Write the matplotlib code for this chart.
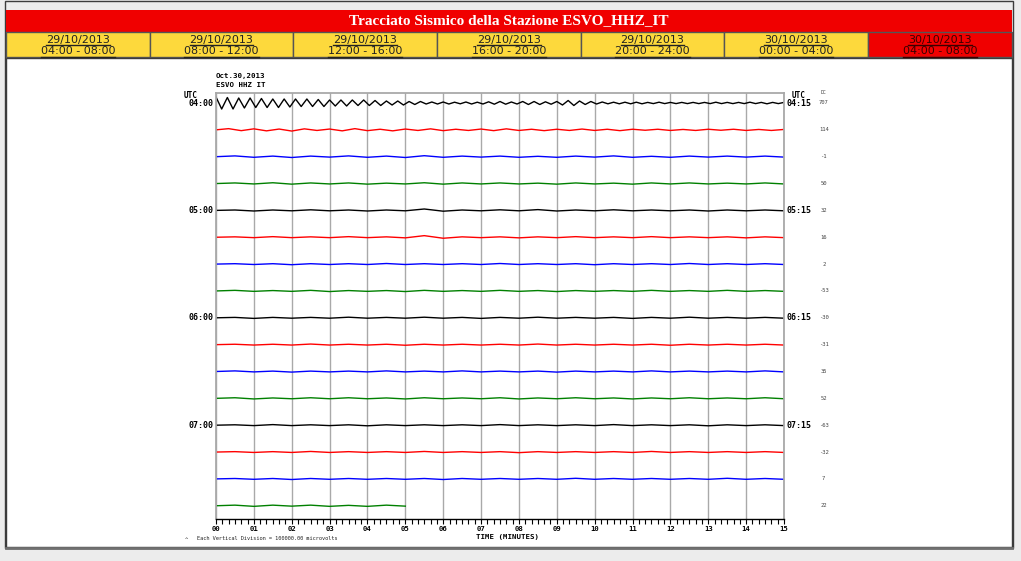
import numpy as np
import matplotlib
matplotlib.use("Agg")
import matplotlib.pyplot as plt
from matplotlib.patches import Rectangle
from matplotlib.transforms import blended_transform_factory

# ---------------- data ----------------
title = "Tracciato Sismico della Stazione ESVO_HHZ_IT"
tab_dates = ["29/10/2013", "29/10/2013", "29/10/2013", "29/10/2013",
             "29/10/2013", "30/10/2013", "30/10/2013"]
tab_ranges = ["04:00 - 08:00", "08:00 - 12:00", "12:00 - 16:00", "16:00 - 20:00",
              "20:00 - 24:00", "00:00 - 04:00", "04:00 - 08:00"]
active_tab = 6
header_lines = ["Oct.30,2013", "ESVO HHZ IT"]
left_labels = ["04:00", "05:00", "06:00", "07:00"]
right_labels = ["04:15", "05:15", "06:15", "07:15"]
dc_values = [707, 114, -1, 50, 32, 16, 2, -53, -30, -31, 35, 52, -63, -32, 7, 22]
minute_labels = ["00", "01", "02", "03", "04", "05", "06", "07",
                 "08", "09", "10", "11", "12", "13", "14", "15"]
footnote = "Each Vertical Division = 100000.00 microvolts"
xlabel = "TIME (MINUTES)"

# trace readings (amplitude readings, up = positive), sample step in seconds
trace00 = [6, -6, 5.5, -6, 5, -5, 5,
           -4.5, 4.5, -4.5, 4, -4.5, 4, -4,
           4, -3.5, 4, -3.5, 3.5, -3.5,
           3, -3, 3, -3, 3, -2.5, 3,
           -2.5, 2.5, -2.5, 2, -2, 2, -2,
           1.5, -1.5, 1.5, -1, 1, -1,
           1, -1, 0.8, -0.8, 1, -1, 0.8,
           -1, 1.2, -1.2, 1.5, -1.2, 1, -1,
           1.5, -1.5, 1.5, -1.5, 1.2, -1.2,
           1.5, -2, 2.5, -2.5, 2, -1.5, 1.5,
           -1, 1, -0.8, 0.8, -0.8, 0.8, -0.8,
           0.8, -0.8, 0.6, -0.6, 0.8, -0.6,
           0.6, -0.6, 0.6, -0.6, 0.6, -0.6, 0.6,
           -0.6, 0.8, -0.6, 0.6, -0.6, 0.6, -0.6,
           0.8, -0.6, 0.6, -0.8, 0.6, -0.6, 0.6]
trace01 = [0, 1.2, -0.8, 1.0, -1.0, 0.8, -1.2, 1.0, -0.6, 0.8, -1.0, 1.2,
           -0.8, 0.6, -1.0, 0.8, -0.6, 1.0, -0.8, 0.6, -0.6, 0.8, -0.8, 1.0,
           -0.6, 0.6, -0.8, 0.6, -0.6, 0.8, -0.6, 0.6, -0.8, 0.6, -0.4, 0.6,
           -0.6, 0.4, -0.6, 0.6, -0.4, 0.6, -0.6, 0.4, -0.6, 0.4]
trace02 = [0, 0.8, -0.6, 0.6, -0.8, 0.6, -0.4, 0.8, -0.6, 0.6, -0.8, 1.0,
           -0.6, 0.6, -0.4, 0.6, -0.6, 0.4, -0.6, 0.6, -0.4, 0.8, -0.6, 0.4,
           -0.6, 0.6, -0.4, 0.6, -0.4, 0.6, -0.4]
trace03 = [0, 0.6, -0.4, 0.8, -0.6, 0.6, -0.4, 0.6, -0.6, 0.4, -0.4, 0.8,
           -0.6, 0.6, -0.4, 0.6, -0.4, 0.4, -0.6, 0.6, -0.4, 0.4, -0.6, 0.6,
           -0.4, 0.6, -0.4, 0.4, -0.4, 0.6, -0.4]
trace04 = [0, 0.4, -0.6, 0.4, -0.4, 0.6, -0.4, 0.4, -0.6, 0.4, -0.4, 1.4,
           -0.8, 0.4, -0.4, 0.6, -0.4, 0.8, -0.6, 0.4, -0.4, 0.6, -0.4, 0.4,
           -0.4, 0.4, -0.6, 0.4, -0.4, 0.4, -0.4]
trace05 = [0, 0.4, -0.4, 0.6, -0.4, 0.4, -0.4, 0.6, -0.4, 0.4, -0.6, 1.6,
           -1.0, 0.4, -0.4, 0.4, -0.6, 0.4, -0.4, 0.6, -0.4, 0.4, -0.4, 0.6,
           -0.4, 0.4, -0.4, 0.4, -0.6, 0.4, -0.4]
trace06 = [0, 0.4, -0.4, 0.4, -0.6, 0.4, -0.4, 0.4, -0.4, 0.6, -0.4, 0.4,
           -0.4, 0.4, -0.4, 0.6, -0.4, 0.4, -0.4, 0.4, -0.6, 0.4, -0.4, 0.4,
           -0.4, 0.6, -0.4, 0.4, -0.4, 0.4, -0.4]
trace07 = [0, 0.6, -0.4, 0.4, -0.4, 0.6, -0.6, 0.4, -0.4, 0.4, -0.6, 0.6,
           -0.4, 0.4, -0.4, 0.6, -0.4, 0.4, -0.6, 0.4, -0.4, 0.4, -0.4, 0.6,
           -0.4, 0.4, -0.4, 0.6, -0.4, 0.4, -0.4]
trace08 = [0, 0.4, -0.6, 0.4, -0.4, 0.4, -0.4, 0.6, -0.4, 0.4, -0.4, 0.6,
           -0.4, 0.4, -0.6, 0.4, -0.4, 0.6, -0.4, 0.4, -0.4, 0.4, -0.6, 0.4,
           -0.4, 0.6, -0.4, 0.4, -0.4, 0.4, -0.4]
trace09 = [0, 0.4, -0.4, 0.4, -0.4, 0.6, -0.4, 0.4, -0.4, 0.4, -0.6, 0.4,
           -0.4, 0.4, -0.4, 0.4, -0.4, 0.6, -0.4, 0.4, -0.4, 0.4, -0.4, 0.4,
           -0.6, 0.4, -0.4, 0.4, -0.4, 0.4, -0.4]
trace10 = [0, 0.6, -0.4, 0.4, -0.6, 0.4, -0.4, 0.4, -0.4, 0.6, -0.4, 0.4,
           -0.4, 0.6, -0.4, 0.4, -0.4, 0.4, -0.6, 0.4, -0.4, 0.4, -0.4, 0.6,
           -0.4, 0.4, -0.4, 0.4, -0.4, 0.6, -0.4]
trace11 = [0, 0.6, -0.6, 0.4, -0.4, 0.6, -0.4, 0.6, -0.4, 0.4, -0.6, 0.6,
           -0.4, 0.4, -0.4, 0.6, -0.6, 0.4, -0.4, 0.6, -0.4, 0.4, -0.6, 0.4,
           -0.4, 0.6, -0.4, 0.4, -0.4, 0.6, -0.4]
trace12 = [0, 0.4, -0.4, 0.6, -0.4, 0.4, -0.4, 0.4, -0.6, 0.4, -0.4, 0.4,
           -0.4, 0.4, -0.4, 0.6, -0.4, 0.4, -0.4, 0.4, -0.4, 0.6, -0.4, 0.4,
           -0.4, 0.4, -0.6, 0.4, -0.4, 0.4, -0.4]
trace13 = [0, 0.4, -0.4, 0.4, -0.4, 0.6, -0.4, 0.4, -0.4, 0.4, -0.4, 0.6,
           -0.4, 0.4, -0.4, 0.4, -0.6, 0.4, -0.4, 0.4, -0.4, 0.4, -0.4, 0.6,
           -0.4, 0.4, -0.4, 0.4, -0.4, 0.4, -0.4]
trace14 = [0, 0.4, -0.4, 0.4, -0.6, 0.4, -0.4, 0.4, -0.4, 0.4, -0.4, 0.4,
           -0.6, 0.4, -0.4, 0.4, -0.4, 0.4, -0.4, 0.6, -0.4, 0.4, -0.4, 0.4,
           -0.4, 0.4, -0.4, 0.6, -0.4, 0.4, -0.4]
trace15 = [0, 0.6, -0.6, 0.6, -0.4, 0.6, -0.6, 0.4, -0.6, 0.6, -0.4]
traces = [trace00, trace01, trace02, trace03, trace04, trace05, trace06, trace07,
          trace08, trace09, trace10, trace11, trace12, trace13, trace14, trace15]
trace_steps_s = [9, 20, 30, 30, 30, 30, 30, 30, 30, 30, 30, 30, 30, 30, 30, 30]
trace_palette = ["#000000", "#ff0000", "#0000ff", "#008000"]

# ---------------- figure / page ----------------
W, H = 1021, 561
fig = plt.figure(figsize=(W / 100, H / 100), dpi=100)
fig.patch.set_facecolor("#ececec")
page = fig.add_axes([0, 0, 1, 1])
page.set_xlim(0, W)
page.set_ylim(H, 0)
page.axis("off")

page.add_patch(Rectangle((5, 1), 1008, 547, facecolor="#ececec", edgecolor="#3c3c3c", lw=1))
page.add_patch(Rectangle((6, 10), 1006, 22, facecolor="#f00000", edgecolor="none"))
page.text(509, 21, title, color="white", fontsize=11, fontweight="bold",
          family="Liberation Serif", ha="center", va="center")

edges = [6, 150, 293, 437, 581, 724, 868, 1012]
for i in range(7):
    fc = "#f00000" if i == active_tab else "#fdd93c"
    page.add_patch(Rectangle((edges[i], 32), edges[i + 1] - edges[i], 25,
                             facecolor=fc, edgecolor="#555555", lw=1))
page.add_patch(Rectangle((6, 58), 1006, 489, facecolor="white", edgecolor="#3c3c3c", lw=1))
page.plot([6, 1012], [547.5, 547.5], color="#707070", lw=2)

fig.canvas.draw()
renderer = fig.canvas.get_renderer()
for i in range(7):
    cx = (edges[i] + edges[i + 1]) / 2
    tc = "#3a0000" if i == active_tab else "#222222"
    for txt, yy, uy in ((tab_dates[i], 39.5, 44.8), (tab_ranges[i], 51.0, 56.6)):
        t = page.text(cx, yy, txt, fontsize=8, family="DejaVu Sans", color=tc,
                      ha="center", va="center")
        bb = t.get_window_extent(renderer)
        inv = page.transData.inverted()
        x0 = inv.transform((bb.x0, bb.y0))[0]
        x1 = inv.transform((bb.x1, bb.y0))[0]
        page.plot([x0, x1], [uy, uy], color=tc, lw=1)

# ---------------- seismogram axes ----------------
left_px, right_px, top_px, bot_px = 216, 784, 93, 519
first_px, spacing_px = 103, 26.85
ax = fig.add_axes([left_px / W, 1 - bot_px / H, (right_px - left_px) / W,
                   (bot_px - top_px) / H])
ax.set_facecolor("white")
ax.set_xlim(0, 15)
ax.set_ylim((bot_px - first_px) / spacing_px, (top_px - first_px) / spacing_px)

for i, (vals, step) in enumerate(zip(traces, trace_steps_s)):
    v = np.asarray(vals, dtype=float)
    t = np.arange(len(v)) * step / 60.0
    ax.plot(t, i - v / spacing_px, color=trace_palette[i % 4], lw=1.0,
            solid_joinstyle="round")

ax.set_xticks(range(16))
ax.set_xticklabels(minute_labels, family="DejaVu Sans Mono", fontweight="bold",
                   fontsize=5.2)
ax.set_xticks(np.arange(0, 15.001, 1 / 6), minor=True)
ax.tick_params(axis="x", which="both", direction="out", length=3.8, width=0.8,
               color="black", pad=1.2)
ax.set_yticks([])
ax.grid(axis="x", which="major", color="#a9a9a9", lw=1)
for s in ("top", "left", "right"):
    ax.spines[s].set_color("#a9a9a9")
    ax.spines[s].set_linewidth(1.3)
ax.spines["bottom"].set_color("black")
ax.spines["bottom"].set_linewidth(1)

bt = blended_transform_factory(ax.transAxes, ax.transData)
mono = dict(family="DejaVu Sans Mono", fontweight="bold")
for k in range(4):
    ax.text(-0.004, 4 * k, left_labels[k], transform=bt, ha="right", va="center",
            fontsize=6, **mono)
    ax.text(1.004, 4 * k, right_labels[k], transform=bt, ha="left", va="center",
            fontsize=6, **mono)
for i, dc in enumerate(dc_values):
    ax.text(1.07, i, str(dc), transform=bt, ha="center", va="center",
            fontsize=4, family="DejaVu Sans Mono", color="#444444")

page.text(190.5, 95, "UTC", fontsize=5.5, ha="center", va="center", **mono)
page.text(799, 95, "UTC", fontsize=5.5, ha="center", va="center", **mono)
page.text(823, 92, "DC", fontsize=3.5, ha="center", va="center",
          family="DejaVu Sans Mono", color="#444444")
page.text(215.5, 75.7, header_lines[0], fontsize=5.3, ha="left", va="center", **mono)
page.text(215.5, 85.3, header_lines[1], fontsize=5.3, ha="left", va="center", **mono)
page.text(507, 537.5, xlabel, fontsize=5.3, ha="center", va="center", **mono)
page.text(197, 538, footnote, fontsize=3.8, ha="left", va="center",
          family="DejaVu Sans Mono", color="#222222")
page.text(186.5, 539.5, "^", fontsize=4, ha="center", va="center",
          family="DejaVu Sans Mono", color="#222222")

fig.savefig("out.png", dpi=100, facecolor=fig.get_facecolor())
